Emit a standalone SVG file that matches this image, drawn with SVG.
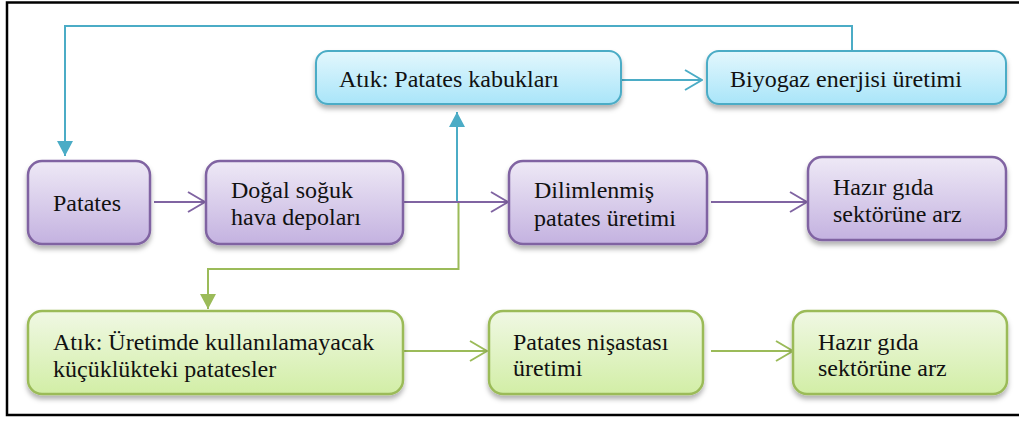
<svg xmlns="http://www.w3.org/2000/svg" width="1019" height="421" viewBox="0 0 1019 421">
<defs>
<linearGradient id="gBlue" x1="0" y1="0" x2="0" y2="1"><stop offset="0" stop-color="#e3f7fd"/><stop offset="1" stop-color="#a9e5f9"/></linearGradient>
<linearGradient id="gPurple" x1="0" y1="0" x2="0" y2="1"><stop offset="0" stop-color="#eee9f6"/><stop offset="1" stop-color="#c4b2e0"/></linearGradient>
<linearGradient id="gGreen" x1="0" y1="0" x2="0" y2="1"><stop offset="0" stop-color="#f0f8e4"/><stop offset="1" stop-color="#d2eea6"/></linearGradient>
<filter id="sh" x="-10%" y="-20%" width="120%" height="150%"><feDropShadow dx="0" dy="4" stdDeviation="2.5" flood-color="#000" flood-opacity="0.3"/></filter>
<marker id="openP" viewBox="0 0 20 22" refX="19" refY="11" markerWidth="20" markerHeight="22" markerUnits="userSpaceOnUse" orient="auto"><path d="M2,1 L19,11 L2,21" fill="none" stroke="#8064a2" stroke-width="2"/></marker>
<marker id="openB" viewBox="0 0 20 22" refX="19" refY="11" markerWidth="20" markerHeight="22" markerUnits="userSpaceOnUse" orient="auto"><path d="M2,1 L19,11 L2,21" fill="none" stroke="#4bacc6" stroke-width="2"/></marker>
<marker id="openG" viewBox="0 0 20 22" refX="19" refY="11" markerWidth="20" markerHeight="22" markerUnits="userSpaceOnUse" orient="auto"><path d="M2,1 L19,11 L2,21" fill="none" stroke="#9bbb59" stroke-width="2"/></marker>
<marker id="fillB" viewBox="0 0 16 16" refX="15" refY="8" markerWidth="16" markerHeight="16" markerUnits="userSpaceOnUse" orient="auto"><path d="M0,0 L15,8 L0,16 Z" fill="#4bacc6"/></marker>
<marker id="fillG" viewBox="0 0 16 16" refX="15" refY="8" markerWidth="16" markerHeight="16" markerUnits="userSpaceOnUse" orient="auto"><path d="M0,0 L15,8 L0,16 Z" fill="#9bbb59"/></marker>
</defs>
<style>
.bb{fill:url(#gBlue);stroke:#4bacc6;stroke-width:2;filter:url(#sh)}
.pb{fill:url(#gPurple);stroke:#8064a2;stroke-width:2.5;filter:url(#sh)}
.gb{fill:url(#gGreen);stroke:#9bbb59;stroke-width:2.5;filter:url(#sh)}
.cb{fill:none;stroke:#4bacc6;stroke-width:2}
.cp{fill:none;stroke:#8064a2;stroke-width:2}
.cg{fill:none;stroke:#9bbb59;stroke-width:2}
</style>
<rect width="1019" height="421" fill="#fff"/>
<path d="M1025,2.5 H7 V415 H1025" fill="none" stroke="#000" stroke-width="2.5"/>
<g id="connectors">
<path class="cb" d="M852,51 V26 H65 V156" marker-end="url(#fillB)"/>
<path class="cb" d="M457,202 V112" marker-end="url(#fillB)"/>
<path class="cg" d="M458.5,202 V269 H208 V309" marker-end="url(#fillG)"/>
<path class="cb" d="M621,80 H702" marker-end="url(#openB)"/>
<path class="cp" d="M154,202 H205" marker-end="url(#openP)"/>
<path class="cp" d="M404,202 H508" marker-end="url(#openP)"/>
<path class="cp" d="M711,202 H807" marker-end="url(#openP)"/>
<path class="cg" d="M404,351 H487" marker-end="url(#openG)"/>
<path class="cg" d="M711,351 H793" marker-end="url(#openG)"/>
</g>
<g font-family="Liberation Serif, serif" font-size="24" fill="#111">
<g id="n_kabuk"><rect class="bb" x="316" y="51" width="305" height="53" rx="12"/><text x="339" y="87">Atık: Patates kabukları</text></g>
<g id="n_biyogaz"><rect class="bb" x="707" y="51" width="299" height="53" rx="12"/><text x="730" y="87">Biyogaz enerjisi üretimi</text></g>
<g id="n_patates"><rect class="pb" x="28" y="161" width="122" height="83" rx="14"/><text x="53" y="211">Patates</text></g>
<g id="n_depo"><rect class="pb" x="206" y="161" width="197" height="83" rx="14"/><text x="231" y="198">Doğal soğuk</text><text x="231" y="225">hava depoları</text></g>
<g id="n_dilim"><rect class="pb" x="509" y="161" width="198" height="83" rx="14"/><text x="534" y="198">Dilimlenmiş</text><text x="534" y="226">patates üretimi</text></g>
<g id="n_hazir1"><rect class="pb" x="808" y="157" width="198" height="83" rx="14"/><text x="833" y="195">Hazır gıda</text><text x="833" y="222">sektörüne arz</text></g>
<g id="n_kucuk"><rect class="gb" x="28" y="311" width="375" height="83" rx="14"/><text x="53" y="350">Atık: Üretimde kullanılamayacak</text><text x="53" y="377">küçüklükteki patatesler</text></g>
<g id="n_nisasta"><rect class="gb" x="489" y="311" width="214" height="83" rx="14"/><text x="513" y="350">Patates nişastası</text><text x="513" y="376">üretimi</text></g>
<g id="n_hazir2"><rect class="gb" x="793" y="311" width="214" height="83" rx="14"/><text x="818" y="350">Hazır gıda</text><text x="818" y="376">sektörüne arz</text></g>
</g>
</svg>
